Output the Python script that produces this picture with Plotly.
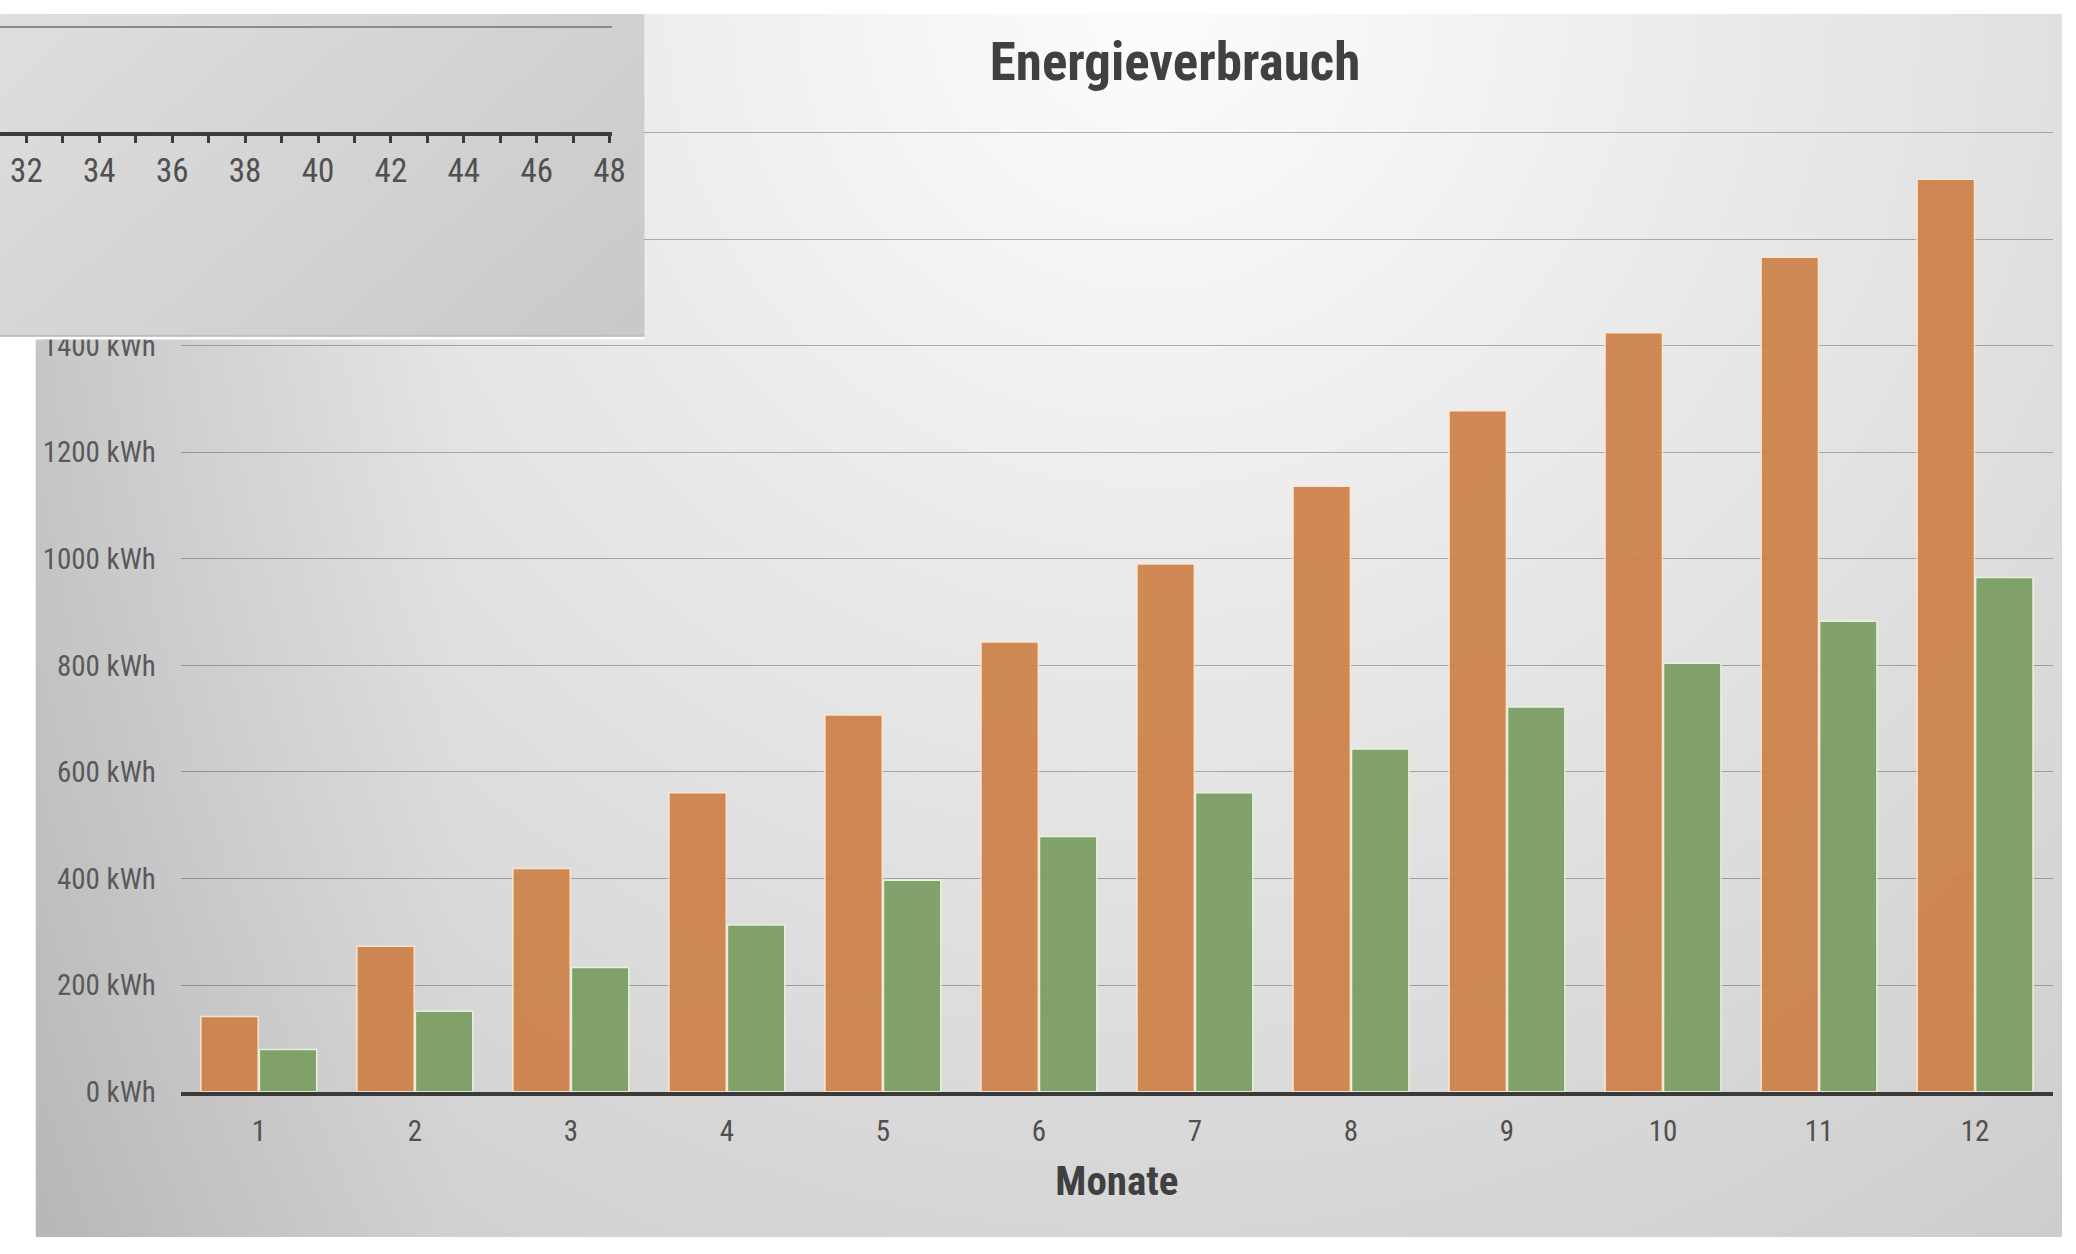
import zlib, struct, base64
import numpy as np
import plotly.graph_objects as go

# ---------------- data ----------------
months = [str(i) for i in range(1, 13)]
series_orange = [141, 273, 419, 561, 707, 844, 990, 1136, 1278, 1424, 1566, 1712]
series_green = [79, 151, 233, 313, 397, 479, 561, 643, 722, 804, 883, 965]
y_tickvals = [0, 200, 400, 600, 800, 1000, 1200, 1400, 1600, 1800]
y_ticktext = [f"{v} kWh" for v in y_tickvals]
overlay_range = [31.275, 48.07]
overlay_tickvals = list(range(32, 49, 2))

W, H = 2076, 1254
NARROW = "Roboto Condensed, Liberation Sans Narrow, Arial Narrow, Roboto, sans-serif"


def png_uri(arr):
    arr = np.clip(arr, 0, 255).astype(np.int16)
    h, w, _ = arr.shape
    filt = np.empty_like(arr)
    filt[:, 0] = arr[:, 0]
    filt[:, 1:] = arr[:, 1:] - arr[:, :-1]
    filt = (filt % 256).astype(np.uint8)
    raw = b"".join(b"\x01" + filt[r].tobytes() for r in range(h))

    def chunk(t, d):
        c = struct.pack(">I", len(d)) + t + d
        return c + struct.pack(">I", zlib.crc32(t + d) & 0xFFFFFFFF)

    png = (b"\x89PNG\r\n\x1a\n"
           + chunk(b"IHDR", struct.pack(">IIBBBBB", w, h, 8, 2, 0, 0, 0))
           + chunk(b"IDAT", zlib.compress(raw, 9))
           + chunk(b"IEND", b""))
    return "data:image/png;base64," + base64.b64encode(png).decode()


# background card gradient (decoration)
cx0, cx1, cy0, cy1 = 36, 2076, 0, 1254
xs = np.arange(cx0, cx1)[None, :].astype(float) * 0.9946
ys = 12.5 + np.arange(cy0, cy1)[:, None].astype(float) * 0.9752
d = np.sqrt((xs - 1150) ** 2 + (ys - 0) ** 2)
v = np.minimum(253 - 0.031 * d, 252) - 18 * np.clip(1 - (xs - 36) / 420, 0, 1)
card = np.repeat(v[:, :, None], 3, axis=2)
card_uri = png_uri(card)

# overlay box gradient (decoration)
ow, oh = 649, 334
oxs = np.arange(ow)[None, :].astype(float)
oys = np.arange(oh)[:, None].astype(float)
ov = 223 - 14 * (oxs / ow) - 8 * (oys / 329) + 0 * oys
ov = np.broadcast_to(ov, (oh, ow)).copy()
ov[329:331, :] = 190
ov[331:, :] = 255
overlay = np.repeat(ov[:, :, None], 3, axis=2)
overlay_uri = png_uri(overlay)

fig = go.Figure()

fig.add_trace(go.Bar(
    x=months, y=series_orange, name="Datenreihe 1",
    marker=dict(color="#CE8249", opacity=0.93,
                line=dict(color="rgba(255,232,210,0.95)", width=1.5)),
    xaxis="x", yaxis="y",
))
fig.add_trace(go.Bar(
    x=months, y=series_green, name="Datenreihe 2",
    marker=dict(color="#7A9E62", opacity=0.93,
                line=dict(color="rgba(236,246,222,0.95)", width=1.5)),
    xaxis="x", yaxis="y",
))
# empty traces to create the overlay subplots
fig.add_trace(go.Scatter(x=[], y=[], xaxis="x2", yaxis="y2", showlegend=False, hoverinfo="skip"))
fig.add_trace(go.Scatter(x=[], y=[], xaxis="x3", yaxis="y3", showlegend=False, hoverinfo="skip"))

fig.update_layout(
    width=W, height=H,
    margin=dict(l=0, r=0, t=0, b=0),
    paper_bgcolor="white",
    plot_bgcolor="rgba(0,0,0,0)",
    showlegend=False,
    barmode="group",
    bargap=0.25,
    bargroupgap=0.02,
    title=dict(
        text="Energieverbrauch",
        x=1183 / W, xref="paper", xanchor="center",
        y=1 - 48.7 / H, yref="paper", yanchor="middle",
        font=dict(family=NARROW, size=53, color="#404040", weight="bold"),
    ),
    xaxis=dict(
        domain=[182 / W, 2067 / W], anchor="y", type="category",
        showline=True, linecolor="#3a3a3a", linewidth=4,
        showgrid=False, zeroline=False, ticks="",
        tickfont=dict(family=NARROW, size=29, color="#505050"),
        ticklabelstandoff=11,
        title=dict(text="Monate", standoff=20,
                   font=dict(family=NARROW, size=41, color="#404040", weight="bold")),
    ),
    yaxis=dict(
        domain=[1 - 1105 / H, 1 - 118.2 / H], anchor="x",
        range=[0, 1806], tickvals=y_tickvals, ticktext=y_ticktext,
        showgrid=True, gridcolor="rgba(0,0,0,0.28)", gridwidth=1.3,
        zeroline=False, showline=False, ticks="",
        tickfont=dict(family=NARROW, size=29, color="#595959"),
        ticklabelstandoff=24,
    ),
    xaxis2=dict(
        domain=[0, ow / W], anchor="y2", range=[0, 1],
        showline=False, showgrid=False, zeroline=False, showticklabels=False, ticks="",
        fixedrange=True,
    ),
    yaxis2=dict(
        domain=[1 - oh / H, 1], anchor="x2", range=[0, 1],
        showline=False, showgrid=False, zeroline=False, showticklabels=False, ticks="",
        fixedrange=True,
    ),
    xaxis3=dict(
        domain=[0, 616.3 / W], anchor="y3", range=overlay_range,
        showline=True, linecolor="#3c3c3c", linewidth=4,
        showgrid=False, zeroline=False,
        tickmode="array", tickvals=overlay_tickvals,
        ticks="outside", ticklen=7, tickwidth=3, tickcolor="#3c3c3c",
        minor=dict(dtick=1, tick0=0, ticks="outside", ticklen=7, tickwidth=3, tickcolor="#3c3c3c"),
        tickfont=dict(family=NARROW, size=33, color="#505050"),
        ticklabelstandoff=0,
        fixedrange=True,
    ),
    yaxis3=dict(
        domain=[1 - 120.5 / H, 1 - 4 / H], anchor="x3", range=[0, 1.0918],
        tickvals=[1], showticklabels=False, ticks="",
        showgrid=True, gridcolor="#8a8a8a", gridwidth=1.5,
        showline=False, zeroline=False, fixedrange=True,
    ),
    images=[
        dict(source=card_uri, xref="paper", yref="paper",
             x=cx0 / W, y=1 - cy0 / H, sizex=(cx1 - cx0) / W, sizey=(cy1 - cy0) / H,
             xanchor="left", yanchor="top", sizing="stretch", layer="below"),
        dict(source=overlay_uri, xref="x2", yref="y2",
             x=0, y=1, sizex=1, sizey=1,
             xanchor="left", yanchor="top", sizing="stretch", layer="below"),
    ],
)

fig.write_html(
    "out.html",
    config={"displayModeBar": False},
    post_script="document.body.style.margin='0';",
)
